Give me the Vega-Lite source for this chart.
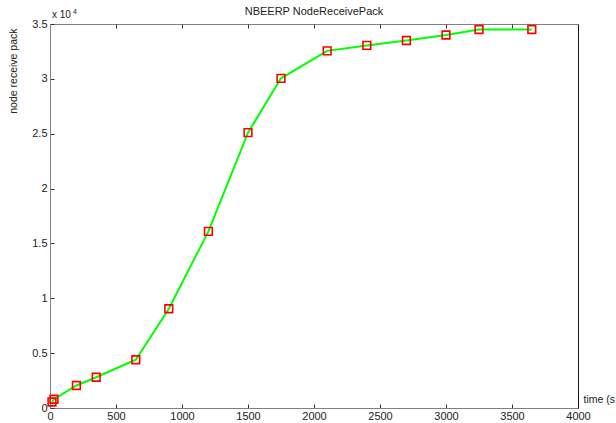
{
  "$schema": "https://vega.github.io/schema/vega-lite/v6.json",
  "width": 528,
  "height": 384,
  "autosize": {"type": "none"},
  "padding": {"left": 50, "top": 24, "right": 38, "bottom": 15},
  "background": "white",
  "config": {
    "font": "Liberation Sans",
    "view": {"stroke": "#808080", "strokeWidth": 1},
    "axis": {"grid": false, "labelFont": "Liberation Sans", "titleFont": "Liberation Sans", "labelColor": "#222", "titleColor": "#222", "labelFontSize": 11, "titleFontSize": 10.5, "titleFontWeight": "normal", "domainColor": "#808080", "tickColor": "#333", "tickWidth": 1, "tickSize": -4}
  },
  "title": {"text": "NBEERP NodeReceivePack", "fontSize": 11, "fontWeight": "normal", "color": "#222", "offset": -9, "font": "Liberation Sans"},
  "data": {"values": [
    {"t": 15, "v": 550},
    {"t": 30, "v": 800},
    {"t": 200, "v": 2050},
    {"t": 350, "v": 2800},
    {"t": 650, "v": 4400},
    {"t": 900, "v": 9050},
    {"t": 1200, "v": 16100},
    {"t": 1500, "v": 25100},
    {"t": 1750, "v": 30050},
    {"t": 2100, "v": 32550},
    {"t": 2400, "v": 33050},
    {"t": 2700, "v": 33500},
    {"t": 3000, "v": 34000},
    {"t": 3250, "v": 34500},
    {"t": 3650, "v": 34500}
  ]},
  "resolve": {"axis": {"x": "independent", "y": "independent"}},
  "layer": [
    {
      "mark": {"type": "line", "color": "#00ff00", "strokeWidth": 2},
      "encoding": {
        "x": {"field": "t", "type": "quantitative", "scale": {"domain": [0, 4000], "nice": false},
          "axis": {"values": [0, 500, 1000, 1500, 2000, 2500, 3000, 3500, 4000], "format": "d", "title": "time (s", "titleX": 533, "titleY": -9, "titleAlign": "left", "titleBaseline": "middle", "labelPadding": 6, "labelFlush": false}},
        "y": {"field": "v", "type": "quantitative", "scale": {"domain": [0, 35000], "nice": false},
          "axis": {"values": [0, 5000, 10000, 15000, 20000, 25000, 30000, 35000], "labelExpr": "datum.value / 10000", "title": "node receive pack", "titleAngle": -90, "titleAlign": "right", "titleBaseline": "middle", "titleX": -37, "titleY": 4, "labelPadding": 7, "labelFlush": false}}
      }
    },
    {
      "mark": {"type": "point", "shape": "square", "filled": false, "color": "#ff0000", "strokeWidth": 1.6, "size": 60, "opacity": 1},
      "encoding": {
        "x": {"field": "t", "type": "quantitative", "axis": {"orient": "top", "values": [500, 1000, 1500, 2000, 2500, 3000, 3500], "labels": false, "title": null, "domain": false}},
        "y": {"field": "v", "type": "quantitative", "axis": {"orient": "right", "values": [5000, 10000, 15000, 20000, 25000, 30000], "labels": false, "title": null, "domainColor": "#111", "ticks": false}}
      }
    },
    {
      "data": {"values": [{"label": "x 10"}]},
      "mark": {"type": "text", "align": "left", "baseline": "bottom", "dx": 2, "dy": -4, "fontSize": 10, "color": "#222"},
      "encoding": {"text": {"field": "label"}, "x": {"datum": 0, "type": "quantitative", "axis": null}, "y": {"datum": 35000, "type": "quantitative", "axis": null}}
    },
    {
      "data": {"values": [{"label": "4"}]},
      "mark": {"type": "text", "align": "left", "baseline": "bottom", "dx": 23, "dy": -9, "fontSize": 7, "color": "#222"},
      "encoding": {"text": {"field": "label"}, "x": {"datum": 0, "type": "quantitative", "axis": null}, "y": {"datum": 35000, "type": "quantitative", "axis": null}}
    }
  ]
}
